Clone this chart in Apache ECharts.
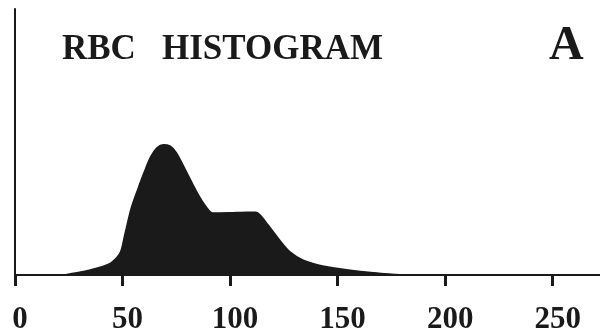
<!DOCTYPE html>
<html>
<head>
<meta charset="utf-8">
<script src="https://cdn.jsdelivr.net/npm/echarts@6/dist/echarts.min.js"></script>
<style>
  html, body { margin: 0; padding: 0; background: #fff; }
  #chart { width: 600px; height: 328px; }
</style>
</head>
<body>
<div id="chart"></div>
<script>
// Cell volume (fL) sampled along the distribution curve
const volumes = [23, 30, 35, 40, 45, 49, 51, 54, 57, 60, 63, 66, 69, 72, 75, 80, 85, 89, 92, 100, 108, 112, 117, 123, 128, 134, 143, 155, 168, 181];
// Relative cell count at each volume
const counts = [0, 1.0, 1.9, 3.0, 4.8, 8.5, 15, 25, 32, 38.5, 44.3, 47.8, 49, 48.5, 46, 38.3, 30.5, 25.5, 23.3, 23.4, 23.6, 23.6, 19.5, 13.2, 8.6, 5.6, 3.4, 1.9, 0.8, 0];
// Volume axis range and tick step
const volumeMin = 0;
const volumeMax = 272;
const volumeStep = 50;

const points = volumes.map((v, i) => [v, counts[i]]);

const serif = '"Liberation Serif", "DejaVu Serif", serif';
const ink = '#1a1a1a';

const chart = echarts.init(document.getElementById('chart'), null, { renderer: 'canvas' });
chart.setOption({
  animation: false,
  backgroundColor: '#fff',
  title: [
    { text: 'RBC', left: 62, top: 32, padding: 0,
      textStyle: { fontFamily: serif, fontWeight: 'bold', fontSize: 35, color: ink } },
    { text: 'HISTOGRAM', left: 162, top: 32, padding: 0,
      textStyle: { fontFamily: serif, fontWeight: 'bold', fontSize: 35, color: ink } },
    { text: 'A', left: 549, top: 23, padding: 0,
      textStyle: { fontFamily: serif, fontWeight: 'bold', fontSize: 48, color: ink } }
  ],
  grid: { left: 15, right: 0, top: 9, bottom: 53, containLabel: false, outerBoundsMode: 'none' },
  xAxis: {
    type: 'value',
    min: volumeMin,
    max: volumeMax,
    interval: volumeStep,
    axisLine: { show: true, onZero: false, lineStyle: { color: ink, width: 2 } },
    axisTick: { show: true, inside: false, length: 11, lineStyle: { color: ink, width: 3 } },
    axisLabel: {
      showMaxLabel: false,
      margin: 29,
      padding: [0, 0, 0, 10],
      fontFamily: serif, fontWeight: 'bold', fontSize: 31, color: ink
    },
    splitLine: { show: false }
  },
  yAxis: {
    type: 'value',
    min: 0,
    max: 100,
    axisLine: { show: true, lineStyle: { color: ink, width: 2 } },
    axisTick: { show: false },
    axisLabel: { show: false },
    splitLine: { show: false }
  },
  series: [{
    type: 'line',
    data: points,
    smooth: 0.3,
    showSymbol: false,
    lineStyle: { color: ink, width: 1.5 },
    areaStyle: { color: ink, opacity: 1 },
    z: 1
  }]
});
</script>
</body>
</html>
